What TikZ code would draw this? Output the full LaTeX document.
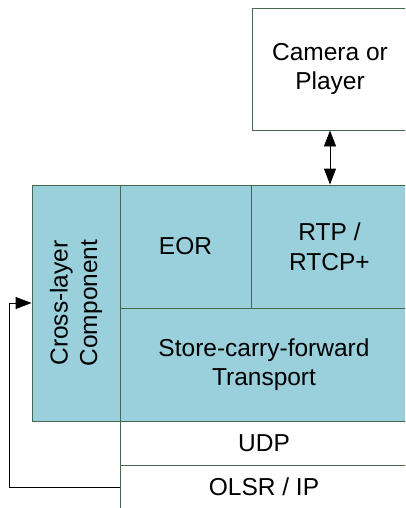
\documentclass[tikz,border=0pt]{standalone}
\usepackage{fontspec}
\setmainfont{Liberation Sans}
\usepackage{xcolor}
\definecolor{layerfill}{HTML}{99D0DC}
\definecolor{layerline}{HTML}{46684F}
\usetikzlibrary{positioning, arrows.meta}
\tikzset{
    layer/.style = {rectangle, draw=layerline, fill=layerfill, line width=0.9pt,
                    inner sep=0pt, align=center, font=\fontsize{24.5}{29.5}\selectfont},
    plainlayer/.style = {layer, fill=white},
    link/.style = {line width=0.9pt, color=black, >={Triangle[length=16pt, width=12pt]}},
}

\begin{document}
\begin{tikzpicture}[x=1pt, y=-1pt]
    \useasboundingbox (0,0) rectangle (405,508);
    \clip (0,0) rectangle (405,508);
    % Application side
    \node[plainlayer, minimum width=156pt, minimum height=122pt] (camera) at (330,69)
          {Camera or\\Player};
    % Stack
    \node[layer, rotate=90, minimum width=236pt, minimum height=88pt] (cross) at (76,303)
          {Cross-layer\\Component};
    \node[layer, minimum width=131pt, minimum height=123pt] (eor) at (185.5,246.5) {EOR};
    \node[layer, minimum width=157pt, minimum height=123pt] (rtp) at (329.5,246.5)
          {RTP /\\RTCP+};
    \node[layer, minimum width=288pt, minimum height=113pt] (scf) at (264,364.5)
          {Store-carry-forward\\Transport};
    \node[plainlayer, minimum width=288pt, minimum height=44pt] (udp) at (264,443) {UDP};
    \node[plainlayer, minimum width=288pt, minimum height=44pt] (olsr) at (264,487) {OLSR / IP};
    % Connectors
    \draw[link, <->] (camera.south) -- (camera.south |- rtp.north);
    % Feedback to the cross-layer part (north is its left side, rotated)
    \draw[link, ->] (olsr.west) -- ++(-110,0) |- (cross.north);
\end{tikzpicture}
\end{document}
